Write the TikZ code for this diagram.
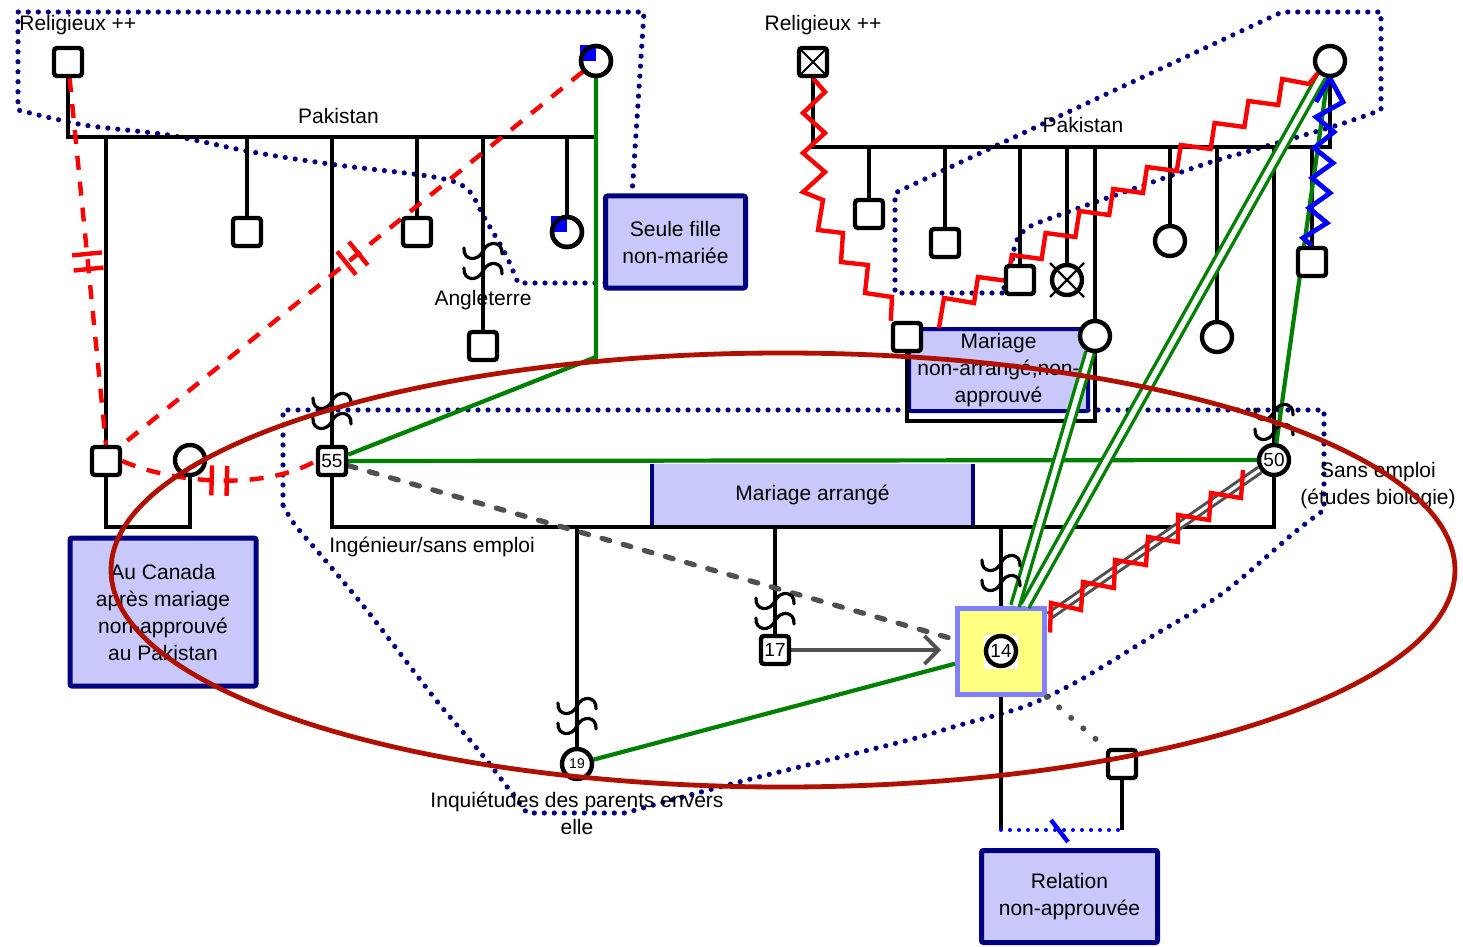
\documentclass[tikz,border=0pt]{standalone}
\usepackage{fontspec}
\setmainfont{Liberation Sans}
\usetikzlibrary{arrows.meta,decorations.markings,calc}
\pgfdeclarelayer{bg}
\pgfdeclarelayer{lines}
\pgfdeclarelayer{top}
\pgfsetlayers{bg,lines,main,top}
\definecolor{navy}{HTML}{000080}
\definecolor{lav}{HTML}{C8C8FA}
\definecolor{grn}{HTML}{008000}
\definecolor{ylw}{HTML}{FFFF80}
\definecolor{ybd}{HTML}{8080FF}
\definecolor{ellred}{HTML}{B01000}
\definecolor{gry}{HTML}{505050}
\definecolor{rd}{HTML}{FF0000}
\definecolor{bl}{HTML}{0000FF}
\tikzset{
  fl/.style={line width=2.2pt},
  sq/.style={draw, line width=2.2pt, fill=white, rectangle, rounded corners=1.5pt, minimum size=14pt, inner sep=0pt, font=\fontsize{9.5}{10}\selectfont},
  ci/.style={draw, line width=2.2pt, fill=white, circle, minimum size=15pt, inner sep=0pt, font=\fontsize{9.5}{10}\selectfont},
  lbox/.style={draw=navy, line width=2.5pt, fill=lav, align=center, inner sep=0pt, rounded corners=1pt, font=\fontsize{10.5}{13.5}\selectfont},
  lbl/.style={inner sep=0pt, font=\fontsize{10.5}{13.5}\selectfont},
  regdot/.style={navy, line width=2.6pt, line cap=round, dash pattern=on 0pt off 5pt},
  grnl/.style={grn, line width=2.1pt},
  grnd/.style={grn, line width=1.7pt, double=white, double distance=2.6pt},
  gdbl/.style={gry, line width=1.5pt, double=white, double distance=1.6pt},
  rdash/.style={rd, line width=2.2pt, dash pattern=on 7pt off 6pt},
  cut/.style={postaction={decorate}, decoration={markings, mark=at position #1 with {\draw[rd, solid, line width=2.2pt] (-3.8pt,-7.5pt) -- (-3.8pt,7.5pt) (3.8pt,-7.5pt) -- (3.8pt,7.5pt);}}},
  rz/.style={rd, line width=2.2pt, line join=miter},
  bz/.style={bl, line width=2.4pt},
  gdash/.style={gry, line width=2.6pt, line cap=round, dash pattern=on 4pt off 7pt},
  gdot/.style={gry, line width=3pt, line cap=round, dash pattern=on 0pt off 8pt},
  mig/.pic={\foreach \dy in {-10,10}{\draw[line width=1.6pt, line cap=round] (-19,\dy-3) .. controls (-20,\dy+10) and (-5,\dy+11) .. (0,\dy) .. controls (5,\dy-11) and (20,\dy-10) .. (19,\dy+3);}}
}
\begin{document}
\begin{tikzpicture}[x=0.5pt,y=-0.5pt]
\useasboundingbox (0,0) rectangle (1463,947);
\begin{pgfonlayer}{bg}
% regions
\draw[regdot] (605,283) -- (518,283) -- plot[smooth, tension=0.5] coordinates {(518,283) (505,253) (484,217) (471,193) (455,182) (421,175) (337,165) (252,152) (168,135) (84,125) (18,110)} -- (18,12) -- (644,12) -- (632,195);
\draw[regdot] (1002,293) -- (895,293) -- (895,193) -- (1282,12) -- (1381,12) -- (1381,110) -- plot[smooth, tension=0.5] coordinates {(1381,110) (1338,125) (1253,150) (1208,163) (1110,197) (1065,213) (1029,227) (1016,242) (1011,267) (1002,293)};
\draw[regdot] (283,505) -- (283,410) -- (1324,410) -- (1324,510) -- plot[smooth, tension=0.5] coordinates {(1324,510) (1295,532) (1223,593) (1151,637) (1080,680) (1026,706) (960,725) (901,742) (735,783) (625,813)} -- (527,813) -- plot[smooth, tension=0.5] coordinates {(527,813) (484,757) (436,700) (369,613) (325,560) (295,525) (283,505)};
% boxes
\node[lbox, minimum width=93pt, minimum height=74pt] (canbox) at (163,612) {Au Canada\\après mariage\\non-approuvé\\au Pakistan};
\node[lbox, minimum width=70pt, minimum height=46pt] (sfbox) at (675.5,242) {Seule fille\\non-mariée};
\node[lbox, minimum width=88pt, minimum height=46pt] (relbox) at (1069.5,896.5) {Relation\\non-approuvée};
\node[fill=lav, minimum width=160pt, minimum height=31pt, inner sep=0pt, font=\fontsize{10.5}{13.5}\selectfont] (mabox) at (812.5,495) {Mariage arrangé};
\draw[navy, line width=2pt] (mabox.north west) -- (mabox.south west) (mabox.north east) -- (mabox.south east);
\node[lbox, line width=2pt, minimum width=89.5pt, minimum height=41pt] (mnbox) at (998.5,370) {Mariage\\non-arrangé,non-\\approuvé};
\node[draw=ybd, line width=2.5pt, fill=ylw, minimum width=43.5pt, minimum height=43pt, inner sep=0pt] (idxbox) at (1001,651.5) {};
\fill[white] ($(idxbox.center)+(-17,-17)$) rectangle ($(idxbox.center)+(17,17)$);
\end{pgfonlayer}
% persons
\node[sq] (lf) at (68,62) {};
\node[ci] (lm) at (596,61) {};
\node[sq] (cm) at (106,461) {};
\node[ci] (cw) at (190,460) {};
\node[sq] (l2) at (247,232) {};
\node[sq] (s55) at (332,461) {55};
\node[sq] (l4) at (417,232) {};
\node[sq] (l5) at (483,346) {};
\node[ci] (l6) at (567,232) {};
\node[sq] (rf) at (813,62) {};
\node[ci] (rm) at (1330,61) {};
\node[sq] (r1) at (869,214) {};
\node[sq] (r2) at (945,243) {};
\node[sq] (r3) at (1020,280) {};
\node[ci] (r4) at (1067,280) {};
\node[ci] (dau) at (1095,336) {};
\node[ci] (r6) at (1170,241) {};
\node[ci] (r7) at (1217,337) {};
\node[ci] (w50) at (1274,460) {50};
\node[sq] (r9) at (1312,262) {};
\node[sq] (sil) at (907,337) {};
\node[ci, font=\fontsize{7}{8}\selectfont] (g19) at (577,764) {19};
\node[sq] (b17) at (775,650) {17};
\node[ci] (idx) at (1001,651) {14};
\node[sq] (bf) at (1122,764) {};
% symbols on persons
\fill[bl] (lm.center) rectangle ++(-16,-16);
\node[ci, fill=none] at (lm) {};
\fill[bl] (l6.center) rectangle ++(-16,-16);
\node[ci, fill=none] at (l6) {};
\draw[line width=1pt] ($(rf.center)+(-12,-12)$) -- ($(rf.center)+(12,12)$) ($(rf.center)+(12,-12)$) -- ($(rf.center)+(-12,12)$);
\draw[line width=1.2pt] ($(r4.center)+(-17,-17)$) -- ($(r4.center)+(17,17)$) ($(r4.center)+(17,-17)$) -- ($(r4.center)+(-17,17)$);
% immigration symbols
\pic at (332,411) {mig};
\pic at (483,261) {mig};
\pic at (577,716) {mig};
\pic at (775,611) {mig};
\pic at (1001,573) {mig};
\pic at (1274,422) {mig};
% labels
\node[lbl, anchor=west] (t1) at (19,25) {Religieux ++};
\node[lbl] (t2) at (338.5,116) {Pakistan};
\node[lbl] (t3) at (483,300) {Angleterre};
\node[lbl, anchor=west] (t4) at (329,547) {Ingénieur/sans emploi};
\node[lbl, align=center] (t5) at (577,813) {Inquiétudes des parents envers\\elle};
\node[lbl] (t6) at (823,25) {Religieux ++};
\node[lbl] (t7) at (1083,125) {Pakistan};
\node[lbl, align=center] (t8) at (1378,486) {Sans emploi\\(études biologie)};
\begin{pgfonlayer}{lines}
\coordinate (lbar) at (0,137);
\coordinate (rbar) at (0,147);
\coordinate (ny) at (0,527);
\coordinate (nb) at (0,421);
\coordinate (ra) at (1001,830);
\coordinate (rb) at (1122,830);
\coordinate (gk) at (596,357);
% family lines
\draw[fl] (lf.south) -- (lf |- lbar) -- (lm |- lbar);
\foreach \n in {cm,l2,s55,l4,l5,l6} \draw[fl] (\n.north) -- (\n |- lbar);
\draw[fl] (cm.south) -- (cm |- ny) -- (cw |- ny) -- (cw.south);
\draw[fl] (rf.south) -- (rf |- rbar) -- (rm |- rbar) -- (rm.south);
\foreach \n in {r1,r2,r3,r4,dau,r6,r7,w50,r9} \draw[fl] (\n.north) -- (\n |- rbar);
\draw[fl] (sil.south) -- (sil |- nb) -- (dau |- nb) -- (dau.south);
\draw[fl] (s55.south) -- (s55 |- ny) -- (w50 |- ny) -- (w50.south);
\foreach \n in {g19,b17,idxbox} \draw[fl] (\n.north) -- (\n |- ny);
\draw[fl] (idxbox.south) -- (ra);
\draw[fl] (bf.south) -- (rb);
\draw[bl, line width=2pt, line cap=round, dash pattern=on 0pt off 4.5pt] (ra) -- (rb);
\draw[bl, line width=2.2pt] (1051,820) -- (1068,842);
% green
\draw[grnl] (lm.south) -- (gk) -- (s55);
\draw[grnl] (s55) -- (w50);
\draw[grnl] (g19) -- (idxbox);
\draw[grnl] (rm) -- (w50);
\draw[grnd] (dau) -- ($(idxbox.north)+(14,0)$);
\draw[grnd] (rm) -- ($(idxbox.north)+(24,0)$);
% red cut-offs
\draw[rdash, cut=0.5] (lf) -- (cm.north);
\draw[rdash, cut=0.5] (lm) -- (cm.north east);
\draw[rdash, cut=0.5] (cm.east) .. controls (170,482) and (260,492) .. (s55.west);
% red conflict
\draw[rz] (rf.south) -- (825,92) -- (803,113) -- (825,133) -- (803,153) -- (825,172) -- (803,192) -- (823,200) -- (818,230) -- (843,233) -- (841,262) -- (868,265) -- (865,293) -- (892,297) -- (sil.north west);
\draw[rz] (939,328) -- (944,298) \foreach \i in {0,...,9}{ -- ({974+33.8*\i},{303-22*\i}) -- ({978+33.8*\i},{277-22*\i}) } -- (1309,84) -- (rm.south west);
\draw[gdbl] ($(idxbox.north east)+(2,10)$) -- (w50);
\draw[rz] ($(idxbox.east)+(3,-19)$) -- (1051,603) -- (1081,610) -- (1083,582) -- (1114,588) -- (1115,560) -- (1146,565) -- (1148,537) -- (1178,542) -- (1178,515) -- (1209,520) -- (1211,493) -- (1241,498) -- (1243,470);
% blue zigzag
\draw[bz] (1316,102) -- (rm.south) -- (1343,102) -- (1316,117) -- (1334,132) -- (1314,148) -- (1333,163) -- (1312,178) -- (1330,193) -- (1309,208) -- (1327,223) -- (1303,238) -- (r9.north);
% gray
\draw[gdash] (s55) -- ($(idxbox.west)+(0,-12)$);
\draw[gry, line width=1.8pt, -{Straight Barb[length=7pt,width=14pt]}] (b17.east) -- ($(idxbox.west |- b17)+(-14,0)$);
\draw[gdot] (idxbox.south east) -- (bf.north west);
\end{pgfonlayer}
\begin{pgfonlayer}{top}
\draw[ellred, line width=2.4pt] (783,570) ellipse [x radius=336pt, y radius=108.5pt];
\end{pgfonlayer}
\end{tikzpicture}
\end{document}
